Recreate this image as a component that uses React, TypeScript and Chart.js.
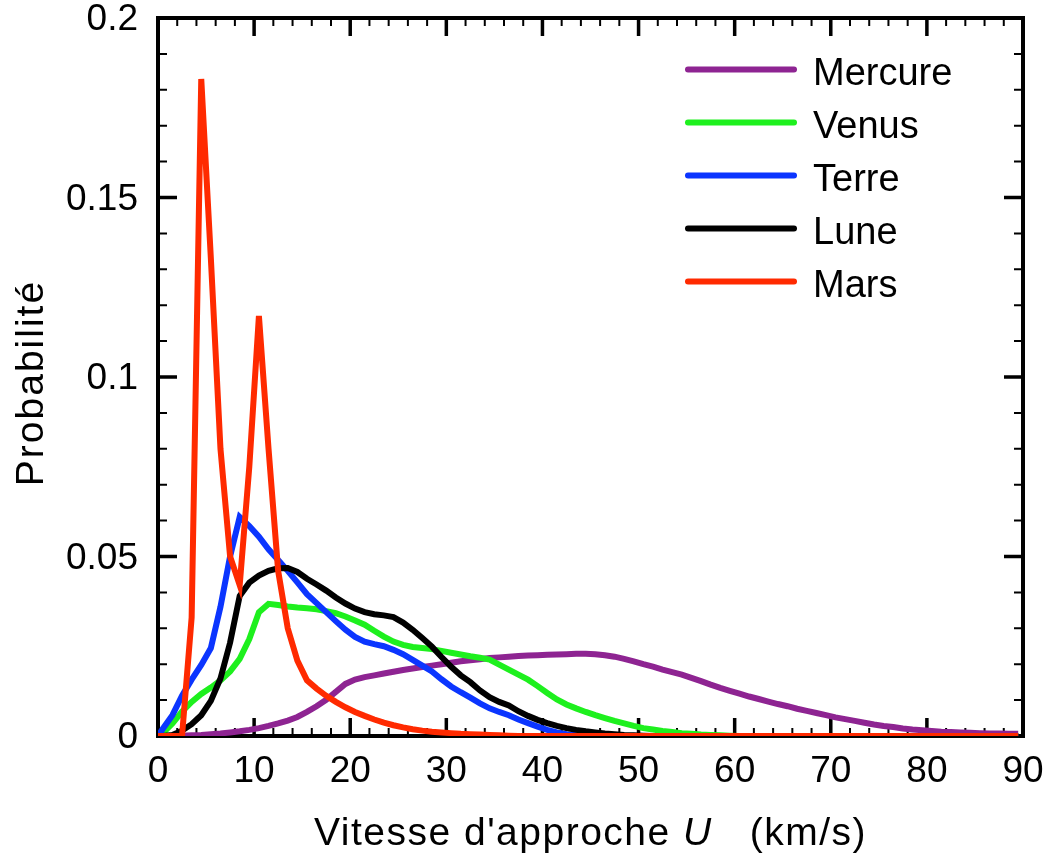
import React, { useEffect, useRef } from 'react';
import { Chart, registerables } from 'chart.js';

Chart.register(...registerables);

// Approach speed U (km/s): sample positions
const speeds = [
  0, 0.5, 1.5, 2.5, 3.5, 4.5, 5.5, 6.5, 7.5, 8.5, 9.5,
  10.5, 11.5, 12.5, 13.5, 14.5, 15.5, 16.5, 17.5, 18.5, 19.5,
  20.5, 21.5, 22.5, 23.5, 24.5, 25.5, 26.5, 27.5, 28.5, 29.5,
  30.5, 31.5, 32.5, 33.5, 34.5, 35.5, 36.5, 37.5, 38.5, 39.5,
  40.5, 41.5, 42.5, 43.5, 44.5, 45.5, 46.5, 47.5, 48.5, 49.5,
  50.5, 51.5, 52.5, 53.5, 54.5, 55.5, 56.5, 57.5, 58.5, 59.5,
  60.5, 61.5, 62.5, 63.5, 64.5, 65.5, 66.5, 67.5, 68.5, 69.5,
  70.5, 71.5, 72.5, 73.5, 74.5, 75.5, 76.5, 77.5, 78.5, 79.5,
  80.5, 81.5, 82.5, 83.5, 84.5, 85.5, 86.5, 87.5, 88.5, 89.5,
];

const mercure = [
  0, 0, 0, 0.0001, 0.0002, 0.0003, 0.0005, 0.0007, 0.001, 0.0013, 0.0017,
  0.0022, 0.0028, 0.0035, 0.0043, 0.0053, 0.0067, 0.0083, 0.0101, 0.0123, 0.0145,
  0.0157, 0.0164, 0.0169, 0.0174, 0.0179, 0.0184, 0.0188, 0.0192, 0.0196, 0.02,
  0.0204, 0.0208, 0.0211, 0.0214, 0.0217, 0.0219, 0.0221, 0.0223, 0.0224, 0.0225,
  0.0226, 0.0227, 0.0228, 0.0229, 0.0229, 0.0228, 0.0225, 0.0221, 0.0215, 0.0208,
  0.02, 0.0193, 0.0185, 0.0178, 0.0171, 0.0162, 0.0153, 0.0143, 0.0134, 0.0126,
  0.0118, 0.011, 0.0103, 0.0096, 0.0089, 0.0083, 0.0076, 0.007, 0.0064, 0.0058,
  0.0052, 0.0047, 0.0042, 0.0037, 0.0032, 0.0028, 0.0025, 0.0021, 0.0018, 0.0016,
  0.0014, 0.0012, 0.0011, 0.001, 0.0009, 0.0008, 0.0007, 0.0007, 0.0006, 0.0006,
];

const venus = [
  0, 0.0008, 0.0035, 0.0068, 0.0095, 0.0117, 0.0135, 0.0155, 0.018, 0.0215, 0.027,
  0.0345, 0.0368, 0.0365, 0.0361, 0.0358, 0.0356, 0.0353, 0.0348, 0.0342, 0.0333,
  0.0322, 0.031, 0.0293, 0.0277, 0.0263, 0.0254, 0.0248, 0.0245, 0.0242, 0.0237,
  0.0232, 0.0227, 0.0222, 0.0218, 0.0213, 0.0199, 0.0185, 0.0171, 0.0157, 0.0139,
  0.012, 0.0102, 0.0088, 0.0077, 0.0067, 0.0058, 0.005, 0.0042, 0.0035, 0.0028,
  0.0022, 0.0018, 0.0014, 0.0011, 0.0008, 0.0006, 0.0004, 0.0003, 0.0002, 0.0001,
  0, 0, 0, 0, 0, 0, 0, 0, 0, 0,
  0, 0, 0, 0, 0, 0, 0, 0, 0, 0,
  0, 0, 0, 0, 0, 0, 0, 0, 0, 0,
];

const terre = [
  0, 0.002, 0.0058, 0.0112, 0.0157, 0.0198, 0.0245, 0.036, 0.05, 0.061, 0.0585,
  0.0555, 0.052, 0.049, 0.046, 0.0428, 0.0395, 0.037, 0.0345, 0.032, 0.0296,
  0.0276, 0.0263, 0.0256, 0.025, 0.024, 0.0228, 0.0212, 0.0196, 0.018, 0.0158,
  0.0138, 0.0122, 0.0107, 0.0091, 0.0077, 0.0067, 0.0058, 0.0046, 0.0036, 0.0026,
  0.0017, 0.001, 0.0005, 0.0002, 0, 0, 0, 0, 0, 0,
  0, 0, 0, 0, 0, 0, 0, 0, 0, 0,
  0, 0, 0, 0, 0, 0, 0, 0, 0, 0,
  0, 0, 0, 0, 0, 0, 0, 0, 0, 0,
  0, 0, 0, 0, 0, 0, 0, 0, 0, 0,
];

const lune = [
  0, 0, 0.0003, 0.0015, 0.0033, 0.0058, 0.0098, 0.016, 0.026, 0.039, 0.0427,
  0.0447, 0.046, 0.0467, 0.0468, 0.0457, 0.0438, 0.0422, 0.0405, 0.0386, 0.0369,
  0.0355, 0.0345, 0.0339, 0.0336, 0.0331, 0.0316, 0.0296, 0.0273, 0.0249, 0.022,
  0.0193, 0.0169, 0.015, 0.0127, 0.0108, 0.0095, 0.0085, 0.0069, 0.0056, 0.0045,
  0.0036, 0.0028, 0.0022, 0.0017, 0.0013, 0.001, 0.0007, 0.0005, 0.0003, 0.0002,
  0.0001, 0, 0, 0, 0, 0, 0, 0, 0, 0,
  0, 0, 0, 0, 0, 0, 0, 0, 0, 0,
  0, 0, 0, 0, 0, 0, 0, 0, 0, 0,
  0, 0, 0, 0, 0, 0, 0, 0, 0, 0,
];

const mars = [
  0, 0, 0, 0, 0.033, 0.183, 0.133, 0.08, 0.05, 0.042, 0.075,
  0.117, 0.08, 0.046, 0.03, 0.021, 0.0155, 0.0132, 0.0112, 0.0095, 0.008,
  0.0067, 0.0056, 0.0046, 0.0037, 0.003, 0.0024, 0.0019, 0.0015, 0.0012, 0.001,
  0.0008, 0.0006, 0.0005, 0.0004, 0.0003, 0.0002, 0.0001, 0, 0, 0,
  0, 0, 0, 0, 0, 0, 0, 0, 0, 0,
  0, 0, 0, 0, 0, 0, 0, 0, 0, 0,
  0, 0, 0, 0, 0, 0, 0, 0, 0, 0,
  0, 0, 0, 0, 0, 0, 0, 0, 0, 0,
  0, 0, 0, 0, 0, 0, 0, 0, 0, 0,
];

const seriesNames = ['Mercure', 'Venus', 'Terre', 'Lune', 'Mars'];
const seriesValues = [mercure, venus, terre, lune, mars];
const seriesColors = ['#8e2492', '#1ef01e', '#0b35ff', '#000000', '#ff2a00'];

const xTickValues = [0, 10, 20, 30, 40, 50, 60, 70, 80, 90];
const yTickValues = [0, 0.05, 0.1, 0.15, 0.2];
const yTickLabels = ['0', '0.05', '0.1', '0.15', '0.2'];

const xTitleParts = [
  { text: "Vitesse d'approche ", italic: false },
  { text: 'U', italic: true },
  { text: '   (km/s)', italic: false },
];
const yTitle = 'Probabilité';

const FONT = '"Liberation Sans", Arial, Helvetica, sans-serif';

const framePlugin = {
  id: 'frameTicks',
  beforeDatasetsDraw(chart: any) {
    const { ctx, chartArea } = chart;
    const { left, right, top, bottom } = chartArea;
    const xs = chart.scales.x;
    const ys = chart.scales.y;
    ctx.save();
    ctx.strokeStyle = '#000';
    ctx.lineCap = 'butt';
    // x ticks every 2, major every 10
    for (let v = 2; v < 90; v += 2) {
      const major = v % 10 === 0;
      const len = major ? 18 : 8;
      const px = xs.getPixelForValue(v);
      ctx.lineWidth = major ? 3.5 : 2;
      ctx.beginPath();
      ctx.moveTo(px, bottom);
      ctx.lineTo(px, bottom - len);
      ctx.moveTo(px, top);
      ctx.lineTo(px, top + len);
      ctx.stroke();
    }
    // y ticks every 0.01, major every 0.05
    for (let i = 1; i < 20; i++) {
      const major = i % 5 === 0;
      const len = major ? 19 : 9;
      const py = ys.getPixelForValue(i * 0.01);
      ctx.lineWidth = major ? 3.5 : 2;
      ctx.beginPath();
      ctx.moveTo(left, py);
      ctx.lineTo(left + len, py);
      ctx.moveTo(right, py);
      ctx.lineTo(right - len, py);
      ctx.stroke();
    }
    ctx.lineWidth = 4;
    ctx.strokeRect(left, top, right - left, bottom - top);
    ctx.restore();
  },
  afterDraw(chart: any) {
    const { ctx, chartArea } = chart;
    const { left, right, top, bottom } = chartArea;
    ctx.save();
    ctx.fillStyle = '#000';
    // legend
    chart.data.datasets.forEach((ds: any, i: number) => {
      const ly = 69.5 + 53 * i;
      ctx.strokeStyle = ds.borderColor;
      ctx.lineWidth = 6;
      ctx.lineCap = 'round';
      ctx.beginPath();
      ctx.moveTo(688, ly);
      ctx.lineTo(794, ly);
      ctx.stroke();
      ctx.font = `38px ${FONT}`;
      ctx.textAlign = 'left';
      ctx.textBaseline = 'alphabetic';
      ctx.fillText(ds.label, 813, 85 + 53 * i);
    });
    // x title
    (ctx as any).letterSpacing = '1.5px';
    ctx.textBaseline = 'alphabetic';
    ctx.textAlign = 'left';
    let total = 0;
    const widths = xTitleParts.map((p) => {
      ctx.font = `${p.italic ? 'italic ' : ''}39px ${FONT}`;
      const w = ctx.measureText(p.text).width;
      total += w;
      return w;
    });
    let x = (left + right) / 2 - total / 2;
    xTitleParts.forEach((p, i) => {
      ctx.font = `${p.italic ? 'italic ' : ''}39px ${FONT}`;
      ctx.fillText(p.text, x, 845);
      x += widths[i];
    });
    // y title
    (ctx as any).letterSpacing = '2px';
    ctx.font = `39px ${FONT}`;
    ctx.translate(43, (top + bottom) / 2 + 6);
    ctx.rotate(-Math.PI / 2);
    ctx.textAlign = 'center';
    ctx.fillText(yTitle, 0, 0);
    ctx.restore();
  },
};

export default function App() {
  const ref = useRef<HTMLCanvasElement>(null);
  useEffect(() => {
    if (!ref.current) return;
    const chart = new Chart(ref.current, {
      type: 'line',
      data: {
        datasets: seriesNames.map((name, i) => ({
          label: name,
          data: speeds.map((s, j) => ({ x: s, y: seriesValues[i][j] })),
          borderColor: seriesColors[i],
          backgroundColor: seriesColors[i],
          borderWidth: 6,
          pointRadius: 0,
          tension: 0,
          fill: false,
          order: seriesNames.length - i,
        })),
      },
      options: {
        responsive: false,
        animation: false,
        events: [],
        layout: { padding: { top: 18, right: 24, left: 0, bottom: 0 } },
        plugins: {
          legend: { display: false },
          tooltip: { enabled: false },
          title: { display: false },
        },
        scales: {
          x: {
            type: 'linear',
            min: 0,
            max: 90,
            grid: { display: false, drawTicks: false },
            border: { display: false },
            ticks: {
              autoSkip: false,
              maxRotation: 0,
              padding: 14,
              color: '#000',
              font: { family: FONT, size: 37 },
            },
            afterBuildTicks: (s: any) => {
              s.ticks = xTickValues.map((v) => ({ value: v }));
            },
            afterFit: (s: any) => {
              s.height = 122;
              s.paddingLeft = 0;
              s.paddingRight = 0;
            },
          },
          y: {
            type: 'linear',
            min: 0,
            max: 0.2,
            grid: { display: false, drawTicks: false },
            border: { display: false },
            ticks: {
              autoSkip: false,
              padding: 20,
              labelOffset: 2,
              color: '#000',
              font: { family: FONT, size: 37 },
              callback: (v: any) => {
                const idx = yTickValues.findIndex((t) => Math.abs(t - v) < 1e-9);
                return idx >= 0 ? yTickLabels[idx] : '';
              },
            },
            afterBuildTicks: (s: any) => {
              s.ticks = yTickValues.map((v) => ({ value: v }));
            },
            afterFit: (s: any) => {
              s.width = 158;
              s.paddingTop = 0;
              s.paddingBottom = 0;
            },
          },
        },
      },
      plugins: [framePlugin],
    } as any);
    return () => chart.destroy();
  }, []);
  return (
    <canvas
      ref={ref}
      width={1047}
      height={858}
      style={{ position: 'absolute', left: 0, top: 0, display: 'block' }}
    />
  );
}
